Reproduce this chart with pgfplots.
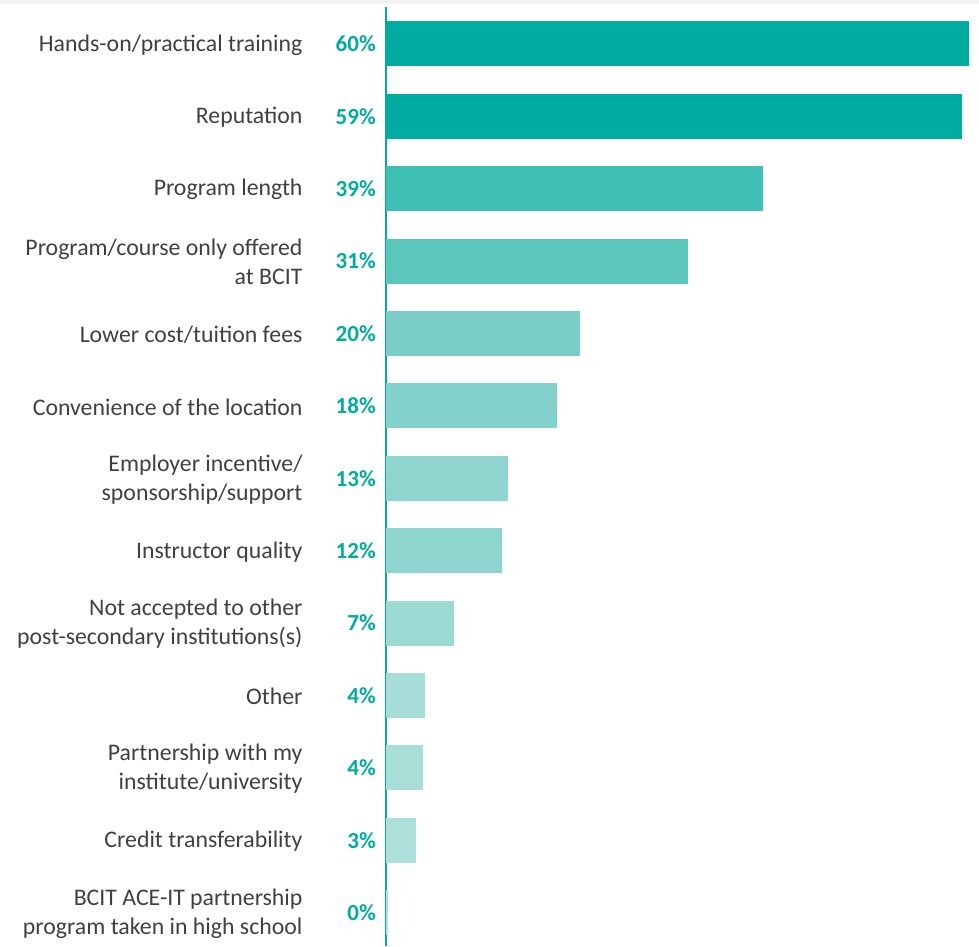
\documentclass[border=0pt]{standalone}
\usepackage{pgfplots}
\pgfplotsset{compat=1.18}
\usepackage{fontspec}
\setmainfont{Carlito}
\definecolor{txt}{HTML}{404040}
\definecolor{teal0}{HTML}{00AC9F}
\definecolor{c1}{HTML}{00AC9F}
\definecolor{c2}{HTML}{00AC9F}
\definecolor{c3}{HTML}{40C0B5}
\definecolor{c4}{HTML}{5AC6BC}
\definecolor{c5}{HTML}{7BCEC7}
\definecolor{c6}{HTML}{82D1CA}
\definecolor{c7}{HTML}{8FD5CF}
\definecolor{c8}{HTML}{8FD5CF}
\definecolor{c9}{HTML}{9CDAD4}
\definecolor{c10}{HTML}{A7DDD8}
\definecolor{c11}{HTML}{A9DED9}
\definecolor{c12}{HTML}{ADDFDB}
\definecolor{c13}{HTML}{B5E2DE}
\begin{document}
\begin{tikzpicture}
\useasboundingbox (-386pt,0pt) rectangle (593pt,946pt);
\fill[black!5] (-386pt,942pt) rectangle (593pt,946pt);
\begin{axis}[
    scale only axis,
    width=593pt, height=939pt,
    xbar, bar width=45pt, bar shift=0pt,
    xmin=0, xmax=61,
    ymin=-0.51, ymax=12.46,
    y dir=reverse,
    axis x line=none,
    axis y line*=left,
    y axis line style={draw=teal0, line width=1.6pt, -},
    ytick={0,...,12},
    major tick length=0pt,
    yticklabels={
        Hands-on/practical training,
        Reputation,
        Program length,
        {Program/course only offered\\at BCIT},
        Lower cost/tuition fees,
        Convenience of the location,
        {Employer incentive/\\sponsorship/support},
        Instructor quality,
        {Not accepted to other\\post-secondary institutions(s)},
        Other,
        {Partnership with my\\institute/university},
        Credit transferability,
        {BCIT ACE-IT partnership\\program taken in high school}},
    yticklabel style={align=right, text=txt, font=\fontsize{23.8}{29}\selectfont,
        xshift=-80pt, yshift=-1pt},
    every axis plot/.append style={draw=none},
    clip=false,
]
\addplot[fill=c1] coordinates {(60,0)};
\addplot[fill=c2] coordinates {(59.3,1)};
\addplot[fill=c3] coordinates {(38.8,2)};
\addplot[fill=c4] coordinates {(31.1,3)};
\addplot[fill=c5] coordinates {(20,4)};
\addplot[fill=c6] coordinates {(17.6,5)};
\addplot[fill=c7] coordinates {(12.6,6)};
\addplot[fill=c8] coordinates {(11.9,7)};
\addplot[fill=c9] coordinates {(7,8)};
\addplot[fill=c10] coordinates {(4,9)};
\addplot[fill=c11] coordinates {(3.8,10)};
\addplot[fill=c12] coordinates {(3.1,11)};
\addplot[fill=c13] coordinates {(0.25,12)};
\addplot[draw=none, mark=none, xbar=0pt, bar width=0pt, forget plot,
    nodes near coords, point meta=explicit symbolic,
    nodes near coords style={anchor=east, xshift=-10pt, inner sep=0pt,
        text=teal0, font=\fontsize{23}{27}\bfseries\selectfont}]
    coordinates {(0,0) [60\%] (0,1) [59\%] (0,2) [39\%] (0,3) [31\%]
        (0,4) [20\%] (0,5) [18\%] (0,6) [13\%] (0,7) [12\%] (0,8) [7\%]
        (0,9) [4\%] (0,10) [4\%] (0,11) [3\%] (0,12) [0\%]};
\end{axis}
\end{tikzpicture}
\end{document}
